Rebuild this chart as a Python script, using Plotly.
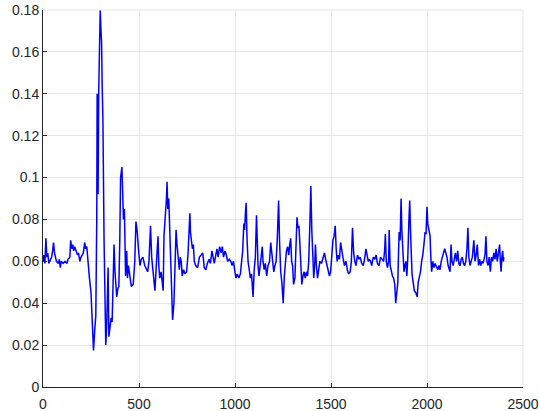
import plotly.graph_objects as go

# sample index and signal value
sample_x = [
    0, 5, 10, 15, 20, 25, 30, 35, 45, 50, 55, 60, 65, 70, 80, 85, 90, 95, 105, 115,
    125, 130, 140, 144, 150, 155, 160, 165, 172, 180, 185, 192, 198, 205, 210, 217, 222, 228, 232, 236,
    242, 250, 256, 263, 270, 275, 280, 282, 285, 287, 290, 294, 298, 302, 305, 308, 312, 318, 322, 327,
    332, 339, 343, 350, 355, 360, 365, 370, 375, 380, 384, 390, 395, 400, 404, 411, 416, 419, 424, 428,
    430, 436, 440, 445, 450, 455, 460, 470, 478, 484, 490, 497, 505, 512, 520, 530, 538, 545, 552, 560,
    566, 572, 578, 583, 590, 595, 599, 603, 608, 615, 620, 626, 630, 637, 643, 646, 650, 655, 660, 665,
    670, 675, 682, 686, 690, 693, 698, 705, 710, 715, 720, 725, 732, 740, 748, 755, 758, 765, 768, 772,
    778, 783, 788, 795, 805, 815, 825, 832, 840, 848, 856, 865, 872, 880, 886, 892, 900, 906, 912, 920,
    928, 934, 940, 948, 955, 962, 970, 978, 985, 992, 998, 1005, 1012, 1020, 1028, 1033, 1040, 1046, 1050, 1055,
    1058, 1063, 1068, 1074, 1080, 1086, 1090, 1094, 1100, 1106, 1112, 1116, 1120, 1125, 1130, 1136, 1142, 1146, 1152, 1158,
    1165, 1172, 1180, 1186, 1190, 1196, 1202, 1208, 1214, 1220, 1227, 1232, 1238, 1244, 1251, 1257, 1262, 1268, 1274, 1280,
    1285, 1290, 1295, 1300, 1305, 1312, 1318, 1323, 1328, 1333, 1338, 1343, 1348, 1354, 1360, 1366, 1372, 1378, 1384, 1390,
    1395, 1400, 1404, 1410, 1415, 1419, 1424, 1430, 1436, 1442, 1450, 1458, 1466, 1472, 1478, 1486, 1492, 1498, 1504, 1510,
    1516, 1522, 1527, 1532, 1538, 1544, 1550, 1556, 1562, 1570, 1578, 1585, 1592, 1600, 1606, 1612, 1618, 1624, 1630, 1638,
    1645, 1652, 1660, 1668, 1675, 1682, 1688, 1694, 1700, 1706, 1712, 1720, 1728, 1735, 1742, 1750, 1758, 1766, 1774, 1780,
    1783, 1788, 1794, 1800, 1803, 1808, 1814, 1820, 1826, 1832, 1837, 1842, 1848, 1852, 1855, 1860, 1865, 1869, 1874, 1880,
    1885, 1890, 1895, 1900, 1906, 1910, 1914, 1918, 1922, 1928, 1934, 1942, 1949, 1954, 1960, 1966, 1972, 1978, 1984, 1990,
    1995, 2000, 2004, 2010, 2016, 2020, 2024, 2030, 2036, 2042, 2050, 2056, 2062, 2068, 2074, 2080, 2086, 2092, 2098, 2104,
    2110, 2116, 2120, 2125, 2130, 2136, 2142, 2148, 2154, 2160, 2166, 2172, 2178, 2184, 2190, 2196, 2202, 2208, 2213, 2218,
    2224, 2230, 2236, 2244, 2250, 2256, 2262, 2268, 2274, 2280, 2286, 2292, 2298, 2302, 2307, 2312, 2318, 2324, 2330, 2336,
    2342, 2348, 2354, 2360, 2366, 2372, 2378, 2382, 2386, 2390, 2394, 2398, 2400,
]
sample_y = [
    0.060, 0.063, 0.059, 0.071, 0.062, 0.064, 0.059, 0.060, 0.062, 0.065, 0.069, 0.064, 0.062, 0.060, 0.059, 0.061, 0.057, 0.060, 0.059, 0.060,
    0.059, 0.061, 0.062, 0.070, 0.066, 0.068, 0.065, 0.067, 0.065, 0.063, 0.064, 0.060, 0.062, 0.063, 0.064, 0.069, 0.066, 0.067, 0.063, 0.055,
    0.052, 0.045, 0.030, 0.0175, 0.028, 0.034, 0.080, 0.140, 0.100, 0.092, 0.140, 0.160, 0.180, 0.170, 0.165, 0.145, 0.128, 0.070, 0.040, 0.020,
    0.030, 0.057, 0.024, 0.030, 0.033, 0.031, 0.045, 0.068, 0.055, 0.050, 0.043, 0.047, 0.048, 0.070, 0.100, 0.105, 0.085, 0.080, 0.085, 0.065,
    0.053, 0.065, 0.052, 0.058, 0.055, 0.050, 0.048, 0.049, 0.060, 0.079, 0.075, 0.066, 0.058, 0.061, 0.062, 0.058, 0.056, 0.055, 0.060, 0.077,
    0.062, 0.055, 0.050, 0.046, 0.058, 0.065, 0.072, 0.058, 0.052, 0.055, 0.050, 0.046, 0.072, 0.080, 0.090, 0.098, 0.085, 0.090, 0.072, 0.060,
    0.040, 0.032, 0.040, 0.050, 0.062, 0.075, 0.068, 0.060, 0.056, 0.062, 0.060, 0.053, 0.056, 0.054, 0.055, 0.063, 0.070, 0.083, 0.074, 0.070,
    0.066, 0.068, 0.060, 0.058, 0.057, 0.062, 0.063, 0.064, 0.057, 0.056, 0.059, 0.061, 0.059, 0.065, 0.062, 0.059, 0.063, 0.066, 0.062, 0.067,
    0.064, 0.067, 0.062, 0.065, 0.063, 0.060, 0.061, 0.060, 0.058, 0.060, 0.056, 0.052, 0.054, 0.052, 0.054, 0.060, 0.065, 0.078, 0.075, 0.084,
    0.088, 0.070, 0.060, 0.056, 0.052, 0.054, 0.048, 0.043, 0.056, 0.062, 0.082, 0.068, 0.058, 0.053, 0.058, 0.063, 0.067, 0.060, 0.056, 0.059,
    0.053, 0.058, 0.060, 0.069, 0.066, 0.060, 0.055, 0.058, 0.060, 0.070, 0.089, 0.070, 0.055, 0.050, 0.040, 0.053, 0.060, 0.065, 0.067, 0.063,
    0.068, 0.071, 0.060, 0.058, 0.049, 0.052, 0.068, 0.081, 0.076, 0.077, 0.068, 0.060, 0.049, 0.053, 0.055, 0.052, 0.055, 0.053, 0.060, 0.078,
    0.096, 0.075, 0.060, 0.052, 0.058, 0.068, 0.058, 0.052, 0.056, 0.060, 0.059, 0.062, 0.064, 0.061, 0.058, 0.056, 0.053, 0.055, 0.062, 0.070,
    0.072, 0.077, 0.066, 0.060, 0.063, 0.061, 0.069, 0.064, 0.062, 0.058, 0.060, 0.056, 0.054, 0.055, 0.060, 0.076, 0.064, 0.060, 0.058, 0.063,
    0.061, 0.062, 0.059, 0.058, 0.061, 0.066, 0.062, 0.060, 0.061, 0.060, 0.058, 0.062, 0.061, 0.063, 0.059, 0.058, 0.062, 0.061, 0.060, 0.066,
    0.073, 0.060, 0.057, 0.060, 0.075, 0.058, 0.055, 0.053, 0.052, 0.049, 0.040, 0.047, 0.050, 0.065, 0.074, 0.070, 0.090, 0.075, 0.062, 0.055,
    0.058, 0.060, 0.053, 0.062, 0.080, 0.089, 0.075, 0.065, 0.054, 0.050, 0.046, 0.045, 0.043, 0.050, 0.052, 0.055, 0.060, 0.063, 0.068, 0.074,
    0.073, 0.086, 0.078, 0.074, 0.072, 0.062, 0.055, 0.060, 0.057, 0.059, 0.057, 0.056, 0.058, 0.056, 0.060, 0.062, 0.064, 0.066, 0.064, 0.062,
    0.058, 0.056, 0.055, 0.068, 0.060, 0.058, 0.062, 0.064, 0.060, 0.065, 0.059, 0.058, 0.061, 0.062, 0.059, 0.058, 0.060, 0.066, 0.076, 0.062,
    0.058, 0.060, 0.062, 0.070, 0.060, 0.063, 0.068, 0.058, 0.061, 0.058, 0.060, 0.059, 0.061, 0.063, 0.072, 0.060, 0.058, 0.062, 0.055, 0.062,
    0.060, 0.064, 0.061, 0.066, 0.060, 0.063, 0.068, 0.060, 0.055, 0.062, 0.065, 0.060, 0.062,
]

x_ticks = [0, 500, 1000, 1500, 2000, 2500]
y_ticks = [0, 0.02, 0.04, 0.06, 0.08, 0.1, 0.12, 0.14, 0.16, 0.18]
y_labels = ["0", "0.02", "0.04", "0.06", "0.08", "0.1", "0.12", "0.14", "0.16", "0.18"]

fig = go.Figure()
fig.add_trace(
    go.Scatter(
        x=sample_x,
        y=sample_y,
        mode="lines",
        line=dict(color="#0000ff", width=1.5),
        showlegend=False,
    )
)

axis_common = dict(
    showgrid=True,
    gridcolor="#e6e6e6",
    gridwidth=1,
    zeroline=False,
    ticks="inside",
    ticklen=4,
    tickcolor="#262626",
    tickfont=dict(family="Liberation Sans, Arial, sans-serif", size=14, color="#262626"),
    showline=True,
    linecolor="#262626",
    linewidth=1,
    automargin=False,
    ticklabeloverflow="allow",
)

fig.update_xaxes(range=[0, 2500], tickvals=x_ticks, ticklabelstandoff=4, **axis_common)
fig.update_yaxes(range=[0, 0.18], tickvals=y_ticks, ticktext=y_labels, **axis_common)

# light frame on top and right, like the reference box
fig.add_shape(type="line", xref="paper", yref="paper", x0=0, x1=1, y0=1, y1=1,
              line=dict(color="#e6e6e6", width=1))
fig.add_shape(type="line", xref="paper", yref="paper", x0=1, x1=1, y0=0, y1=1,
              line=dict(color="#e6e6e6", width=1))

fig.update_layout(
    width=540,
    height=411,
    margin=dict(l=43, r=17, t=10, b=24),
    plot_bgcolor="white",
    paper_bgcolor="white",
)

# drop the default 8px body margin so the figure fills the window
fig.write_html(
    "out.html",
    config={"displayModeBar": False},
    post_script="document.body.style.margin = '0';",
)
